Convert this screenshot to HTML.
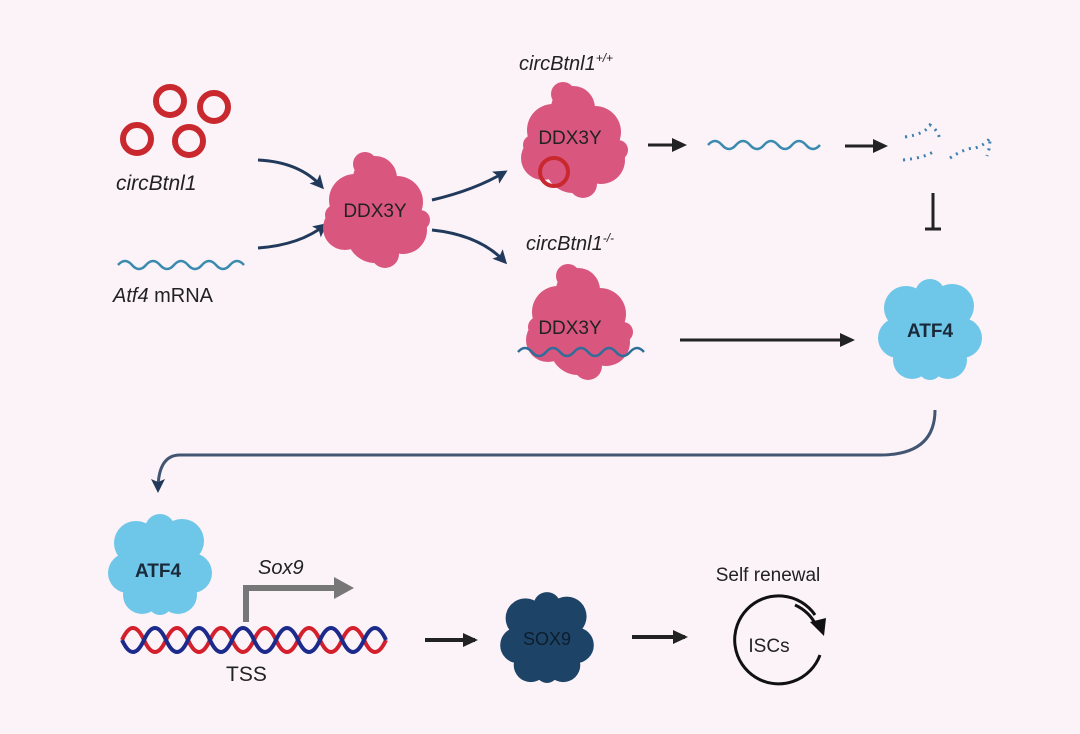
<!DOCTYPE html>
<html><head><meta charset="utf-8"><style>
html,body{margin:0;padding:0;background:#fcf3f8;}
svg{display:block;font-family:"Liberation Sans",sans-serif;}
</style></head><body>
<svg width="1080" height="734" viewBox="0 0 1080 734" xmlns="http://www.w3.org/2000/svg">
<defs>
<marker id="ah" markerWidth="16" markerHeight="16" refX="12" refY="8" orient="auto" markerUnits="userSpaceOnUse"><path d="M0,1 L15,8 L0,15 z" fill="#222"/></marker>
<marker id="ahn" markerWidth="14" markerHeight="14" refX="11" refY="7" orient="auto" markerUnits="userSpaceOnUse"><path d="M0,0 L14,7 L0,14 L3,7 z" fill="#213a5c"/></marker>
<g id="pink">
<circle cx="0" cy="-32" r="22"/><circle cx="-20" cy="-10" r="26"/><circle cx="22" cy="-8" r="26"/>
<circle cx="-30" cy="18" r="22"/><circle cx="28" cy="20" r="24"/><circle cx="0" cy="25" r="28"/><circle cx="0" cy="0" r="32"/>
<circle cx="10" cy="44" r="14"/><circle cx="-10" cy="-46" r="12"/><circle cx="-40" cy="5" r="10"/><circle cx="45" cy="10" r="10"/>
</g>
<g id="blob">
<circle cx="0" cy="0" r="40"/><circle cx="-24" cy="-22" r="22"/><circle cx="22" cy="-24" r="22"/><circle cx="-32" cy="8" r="20"/>
<circle cx="32" cy="8" r="20"/><circle cx="-18" cy="30" r="19"/><circle cx="18" cy="30" r="19"/><circle cx="0" cy="-36" r="15"/><circle cx="0" cy="38" r="12"/>
</g>
</defs>

<g fill="none" stroke="#c8282e" stroke-width="6">
<circle cx="170" cy="101" r="14"/><circle cx="214" cy="107" r="14"/><circle cx="137" cy="139" r="14"/><circle cx="189" cy="141" r="14"/>
</g>
<text x="116" y="190" font-size="21" font-style="italic" fill="#222">circBtnl1</text>
<path d="M118,265 q7,-8 14,0 t14,0 t14,0 t14,0 t14,0 t14,0 t14,0 t14,0 t14,0" fill="none" stroke="#3b8ab0" stroke-width="2.5"/>
<text x="113" y="302" font-size="20" fill="#222"><tspan font-style="italic">Atf4</tspan> mRNA</text>

<path d="M258,160 Q300,162 322,187" fill="none" stroke="#213a5c" stroke-width="3" marker-end="url(#ahn)"/>
<path d="M258,248 Q300,245 325,225" fill="none" stroke="#213a5c" stroke-width="3" marker-end="url(#ahn)"/>

<use href="#pink" x="375" y="210" fill="#d9577e"/>
<text x="375" y="217" font-size="19" text-anchor="middle" fill="#222">DDX3Y</text>

<path d="M432,200 Q475,190 505,172" fill="none" stroke="#213a5c" stroke-width="3" marker-end="url(#ahn)"/>
<path d="M432,230 Q480,235 505,262" fill="none" stroke="#213a5c" stroke-width="3" marker-end="url(#ahn)"/>

<text x="519" y="70" font-size="20" font-style="italic" fill="#222">circBtnl1<tspan font-size="12" dy="-8">+/+</tspan></text>
<use href="#pink" x="573" y="140" fill="#d9577e"/>
<text x="570" y="144" font-size="19" text-anchor="middle" fill="#222">DDX3Y</text>
<circle cx="554" cy="172" r="14" fill="none" stroke="#c8282e" stroke-width="4"/>
<line x1="648" y1="145" x2="684" y2="145" stroke="#222" stroke-width="3" marker-end="url(#ah)"/>
<path d="M708,145 q7,-8 14,0 t14,0 t14,0 t14,0 t14,0 t14,0 t14,0 t14,0" fill="none" stroke="#3b8ab0" stroke-width="2.5"/>
<line x1="845" y1="146" x2="885" y2="146" stroke="#222" stroke-width="3" marker-end="url(#ah)"/>
<g stroke="#3b7fb0" stroke-width="3" stroke-dasharray="2,5" fill="none">
<path d="M905,137 q20,-3 25,-12 q8,5 10,15"/><path d="M903,160 q20,-2 30,-8"/><path d="M950,158 q15,-10 25,-10 q10,-3 15,-10 q0,10 -3,18"/>
</g>
<line x1="933" y1="193" x2="933" y2="228" stroke="#222" stroke-width="3"/>
<line x1="925" y1="229" x2="941" y2="229" stroke="#222" stroke-width="3"/>

<text x="526" y="250" font-size="20" font-style="italic" fill="#222">circBtnl1<tspan font-size="12" dy="-8">-/-</tspan></text>
<use href="#pink" x="578" y="322" fill="#d9577e"/>
<text x="570" y="334" font-size="19" text-anchor="middle" fill="#222">DDX3Y</text>
<path d="M518,352 q7,-8 14,0 t14,0 t14,0 t14,0 t14,0 t14,0 t14,0 t14,0 t14,0" fill="none" stroke="#2f6e9a" stroke-width="2.5"/>
<line x1="680" y1="340" x2="852" y2="340" stroke="#222" stroke-width="3" marker-end="url(#ah)"/>

<use href="#blob" x="930" y="330" fill="#6ec6e8"/>
<text x="930" y="337" font-size="19" font-weight="bold" text-anchor="middle" fill="#1a2a3a">ATF4</text>

<path d="M935,410 Q935,455 880,455 L180,455 Q158,455 158,490" fill="none" stroke="#213a5c" stroke-width="3" stroke-opacity="0.85" marker-end="url(#ahn)"/>

<use href="#blob" x="160" y="565" fill="#6ec6e8"/>
<text x="158" y="577" font-size="19" font-weight="bold" text-anchor="middle" fill="#1a2a3a">ATF4</text>
<path d="M246,622 L246,588 L338,588" fill="none" stroke="#777" stroke-width="6"/>
<path d="M334,577 L354,588 L334,599 z" fill="#777"/>
<text x="258" y="574" font-size="20" font-style="italic" fill="#222">Sox9</text>
<path d="M122,640 q11,-24 22,0 t22,0 t22,0 t22,0 t22,0 t22,0 t22,0 t22,0 t22,0 t22,0 t22,0 t22,0" fill="none" stroke="#d4202c" stroke-width="4"/>
<path d="M122,640 q11,24 22,0 t22,0 t22,0 t22,0 t22,0 t22,0 t22,0 t22,0 t22,0 t22,0 t22,0 t22,0" fill="none" stroke="#1c2a8c" stroke-width="4"/>
<text x="226" y="681" font-size="21" fill="#222">TSS</text>
<line x1="425" y1="640" x2="475" y2="640" stroke="#222" stroke-width="4" marker-end="url(#ah)"/>
<g transform="translate(547 638) scale(0.9)"><use href="#blob" x="0" y="0" fill="#1d4466"/></g>
<text x="547" y="645" font-size="18" text-anchor="middle" fill="#0d1d2d">SOX9</text>
<line x1="632" y1="637" x2="685" y2="637" stroke="#222" stroke-width="4" marker-end="url(#ah)"/>
<text x="768" y="581" font-size="19" text-anchor="middle" fill="#222">Self renewal</text>
<path d="M815,615 A44,44 0 1 0 820,655" fill="none" stroke="#111" stroke-width="3"/>
<path d="M795,605 A44,44 0 0 1 816,625" fill="none" stroke="#111" stroke-width="3"/>
<path d="M810,622 L824,636 L826,618 z" fill="#111"/>
<text x="769" y="652" font-size="19" text-anchor="middle" fill="#222">ISCs</text>
</svg>
</body></html>
